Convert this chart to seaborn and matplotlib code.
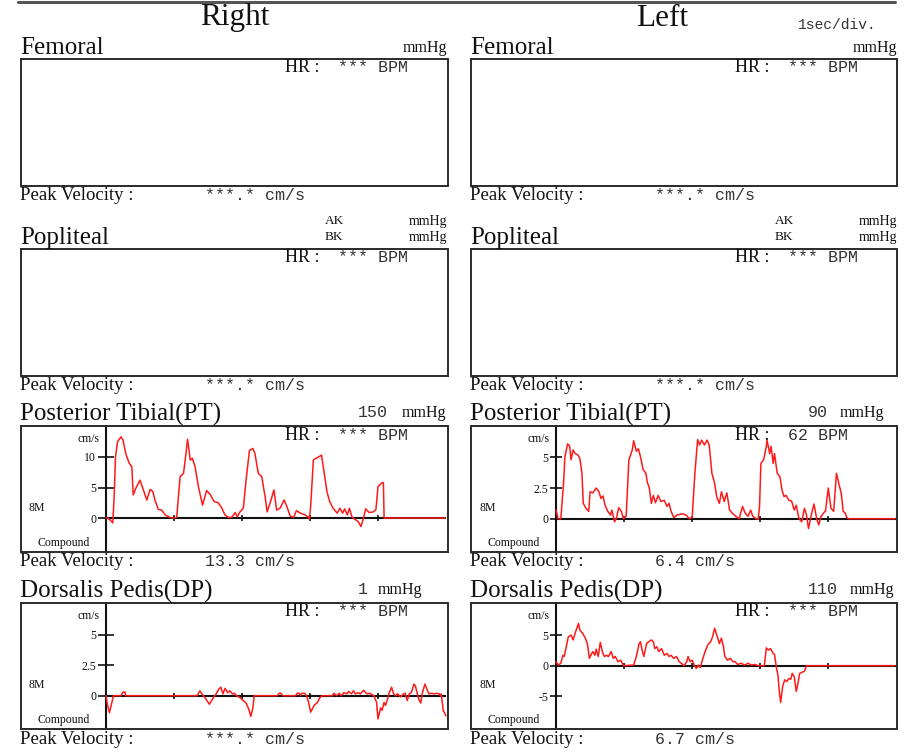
import matplotlib
matplotlib.use("Agg")
import matplotlib.pyplot as plt
import seaborn as sns
import pandas as pd
from matplotlib.patches import Rectangle
from matplotlib.lines import Line2D

# ---------------- data ----------------
sections = ["Femoral", "Popliteal", "Posterior Tibial(PT)", "Dorsalis Pedis(DP)"]
hr_right = ["***", "***", "***", "***"]
hr_left = ["***", "***", "62", "***"]
pv_right = ["***.*", "***.*", "13.3", "***.*"]
pv_left = ["***.*", "***.*", "6.4", "6.7"]
pt_pressure = ["150", "90"]
dp_pressure = ["1", "110"]

# Right Posterior Tibial (time s, velocity cm/s)
rpt_t = [0.00, 0.02, 0.06, 0.10, 0.12, 0.14, 0.17, 0.22, 0.25, 0.29, 0.34, 0.38, 0.40, 0.44, 0.50,
         0.55, 0.60, 0.65, 0.69, 0.72, 0.77, 0.82, 0.87, 0.94, 0.99, 1.04, 1.09, 1.14, 1.17, 1.20,
         1.24, 1.27, 1.31, 1.36, 1.42, 1.48, 1.53, 1.59, 1.65, 1.70, 1.75, 1.80, 1.85, 1.90, 1.93,
         1.97, 2.02, 2.06, 2.11, 2.16, 2.19, 2.24, 2.29, 2.34, 2.37, 2.42, 2.47, 2.51, 2.56, 2.62,
         2.66, 2.71, 2.76, 2.80, 2.86, 2.93, 2.98, 2.99, 3.01, 3.05, 3.09, 3.14, 3.17, 3.21, 3.25,
         3.29, 3.34, 3.40, 3.44, 3.48, 3.51, 3.55, 3.58, 3.62, 3.66, 3.71, 3.75, 3.78, 3.82, 3.87,
         3.93, 3.97, 4.00, 4.05, 4.08, 4.09, 4.99]
rpt_v = [0.0, 0.0, -0.3, -0.8, 3.5, 10.0, 12.5, 13.3, 12.8, 10.6, 9.0, 8.4, 3.8, 4.9, 6.2,
         4.6, 2.95, 4.7, 4.3, 2.95, 1.4, 1.3, 0.5, 0.1, 0.0, 0.1, 6.8, 7.3, 10.0, 12.9,
         9.5, 9.8, 8.4, 5.1, 2.1, 4.5, 3.9, 2.7, 2.5, 1.7, 0.5, 0.1, 0.1, 0.9, 0.2,
         1.0, 1.6, 6.2, 11.1, 11.4, 10.6, 7.3, 6.8, 3.5, 1.0, 2.7, 4.6, 1.3, 1.6, 2.95,
         1.9, 0.3, 0.1, 1.2, 0.8, 0.5, 0.1, -0.2, 1.9, 9.5, 9.8, 10.1, 10.3, 7.3, 4.3,
         2.7, 1.6, 0.8, 1.6, 0.8, 1.5, 0.5, 1.6, 0.1, -0.2, -0.6, -1.4, -0.3, 1.5, 0.9,
         1.0, 1.4, 5.1, 5.7, 5.8, 0.0, 0.0]

# Left Posterior Tibial
lpt_t = [0.00, 0.03, 0.07, 0.11, 0.13, 0.17, 0.20, 0.22, 0.25, 0.28, 0.32, 0.35, 0.38, 0.40, 0.44,
         0.48, 0.50, 0.54, 0.59, 0.63, 0.66, 0.69, 0.72, 0.76, 0.80, 0.82, 0.86, 0.89, 0.92, 0.96,
         0.99, 1.03, 1.07, 1.12, 1.14, 1.18, 1.21, 1.24, 1.28, 1.32, 1.34, 1.37, 1.40, 1.43, 1.46,
         1.50, 1.54, 1.59, 1.63, 1.66, 1.69, 1.73, 1.78, 1.86, 1.91, 1.96, 2.00, 2.04, 2.08, 2.11,
         2.14, 2.18, 2.22, 2.25, 2.29, 2.33, 2.36, 2.40, 2.43, 2.47, 2.51, 2.55, 2.60, 2.65, 2.69,
         2.74, 2.78, 2.82, 2.86, 2.89, 2.94, 2.97, 2.99, 3.01, 3.05, 3.09, 3.10, 3.14, 3.16, 3.19,
         3.21, 3.25, 3.29, 3.32, 3.35, 3.38, 3.42, 3.46, 3.50, 3.53, 3.57, 3.61, 3.65, 3.68, 3.71,
         3.75, 3.79, 3.83, 3.86, 3.89, 3.93, 3.96, 4.00, 4.04, 4.08, 4.12, 4.16, 4.19, 4.22, 4.25,
         4.27, 4.30, 4.98]
lpt_v = [0.7, 0.0, 0.0, 2.9, 5.05, 6.1, 5.9, 4.8, 5.6, 5.3, 5.2, 4.9, 3.7, 1.25, 0.85,
         0.6, 2.2, 2.1, 2.5, 2.2, 1.65, 1.85, 1.1, 0.6, 0.3, 0.7, -0.25, 0.1, 0.9, 0.6,
         0.0, 0.2, 4.8, 5.6, 6.35, 5.5, 5.7, 5.05, 4.0, 3.7, 3.0, 2.5, 1.25, 1.9, 1.3,
         1.9, 1.4, 1.5, 1.0, 1.25, 0.6, 0.1, 0.3, 0.4, 0.3, 0.0, 0.1, 3.7, 6.45, 6.0,
         6.4, 6.0, 6.4, 6.0, 3.7, 2.9, 1.8, 1.25, 2.2, 1.4, 2.1, 0.7, 0.4, 0.15, 0.0,
         1.0, 0.45, 0.2, 0.7, 0.2, 0.0, -0.05, 1.0, 4.5, 4.8, 5.9, 6.4, 5.3, 5.9, 4.5,
         5.3, 3.7, 3.4, 2.35, 1.8, 1.9, 1.5, 1.45, 0.7, 1.1, 0.0, -0.25, 0.85, 0.3, -0.8,
         0.3, 1.2, 0.0, -0.5, 0.15, 0.45, 0.65, 2.5, 0.85, 0.6, 3.7, 2.75, 2.1, 0.6, 0.45,
         0.1, 0.0, 0.0]

# Right Dorsalis Pedis
rdp_t = [0.00, 0.02, 0.05, 0.08, 0.11, 0.22, 0.25, 0.28, 0.29, 1.34, 1.38, 1.41, 1.46, 1.52, 1.58,
         1.62, 1.66, 1.69, 1.72, 1.75, 1.79, 1.82, 1.86, 1.89, 1.92, 1.97, 2.01, 2.06, 2.10, 2.13,
         2.16, 2.18, 2.52, 2.55, 2.57, 2.60, 2.79, 2.81, 2.84, 2.86, 2.88, 2.92, 2.95, 2.98, 3.01,
         3.06, 3.11, 3.14, 3.18, 3.33, 3.35, 3.39, 3.43, 3.46, 3.50, 3.54, 3.57, 3.61, 3.64, 3.67,
         3.71, 3.74, 3.79, 3.82, 3.84, 3.88, 3.94, 3.98, 4.00, 4.04, 4.06, 4.09, 4.11, 4.14, 4.16,
         4.20, 4.23, 4.26, 4.29, 4.33, 4.38, 4.40, 4.43, 4.46, 4.49, 4.53, 4.55, 4.58, 4.60, 4.63,
         4.65, 4.69, 4.73, 4.75, 4.79, 4.83, 4.86, 4.90, 4.92, 4.93, 4.96, 5.00]
rdp_v = [0.0, -0.7, -1.4, -0.7, 0.0, 0.0, 0.3, 0.3, 0.0, 0.0, 0.4, 0.15, -0.2, -0.7, -0.15,
         0.15, 0.55, 0.7, 0.15, 0.6, 0.25, 0.4, 0.15, 0.2, 0.0, -0.15, -0.35, -0.6, -1.1, -1.7,
         -1.0, 0.0, 0.0, 0.2, 0.2, 0.0, 0.0, 0.2, 0.2, 0.0, 0.2, 0.2, 0.0, -0.55, -1.35,
         -0.8, -0.55, -0.2, 0.0, 0.0, 0.2, 0.0, 0.2, 0.0, 0.25, 0.15, 0.35, 0.15, 0.4, 0.15,
         0.25, 0.15, 0.45, 0.25, 0.15, 0.2, 0.0, -0.55, -1.9, -1.0, -1.2, -0.55, -0.8, -0.3, 0.15,
         0.7, 0.15, 0.0, 0.15, -0.1, 0.15, 0.2, -0.4, 0.15, 0.25, 0.95, 0.8, 0.15, -0.3, -0.6,
         0.15, 0.95, 0.4, 0.15, 0.2, 0.15, 0.2, 0.15, 0.0, 0.15, -1.2, -1.65]

# Left Dorsalis Pedis
ldp_t = [0.00, 0.03, 0.07, 0.10, 0.12, 0.15, 0.18, 0.22, 0.25, 0.28, 0.33, 0.35, 0.39, 0.43, 0.46,
         0.49, 0.51, 0.54, 0.57, 0.59, 0.62, 0.65, 0.68, 0.71, 0.74, 0.77, 0.81, 0.84, 0.87, 0.91,
         0.95, 0.99, 1.14, 1.18, 1.22, 1.24, 1.27, 1.29, 1.33, 1.36, 1.40, 1.43, 1.45, 1.48, 1.51,
         1.55, 1.59, 1.63, 1.66, 1.69, 1.73, 1.77, 1.81, 1.84, 1.88, 1.92, 1.94, 1.97, 2.00, 2.03,
         2.06, 2.09, 2.12, 2.15, 2.19, 2.23, 2.27, 2.30, 2.33, 2.37, 2.40, 2.43, 2.46, 2.48, 2.52,
         2.56, 2.60, 2.63, 2.67, 2.72, 2.77, 2.82, 2.87, 2.92, 2.97, 3.06, 3.09, 3.12, 3.15, 3.19,
         3.21, 3.24, 3.26, 3.28, 3.30, 3.33, 3.36, 3.39, 3.42, 3.45, 3.47, 3.50, 3.53, 3.56, 3.58,
         3.61, 3.65, 3.68, 4.98]
ldp_v = [0.65, 0.1, 0.4, 1.7, 1.5, 3.1, 4.7, 5.0, 4.2, 5.3, 6.9, 5.8, 5.3, 4.5, 3.6,
         1.2, 1.7, 2.3, 1.7, 2.7, 1.5, 3.8, 2.3, 1.5, 1.7, 1.5, 2.3, 1.2, 1.5, 0.65,
         0.9, 0.0, 0.1, 1.5, 3.6, 3.9, 2.3, 1.5, 3.6, 3.9, 4.2, 3.9, 2.8, 3.1, 2.3,
         2.8, 1.7, 2.0, 1.5, 1.7, 1.2, 1.5, 0.65, 0.4, 0.0, 0.65, 1.5, 0.65, 0.9, 0.1,
         -0.45, 0.1, -0.3, 0.9, 2.3, 3.4, 3.9, 4.7, 6.1, 4.7, 3.6, 4.5, 3.1, 1.5, 0.9,
         1.2, 0.65, 0.65, 0.2, 0.4, 0.1, 0.4, 0.1, 0.2, 0.0, 0.0, 2.9, 2.55, 2.8, 2.0,
         1.85, -0.45, -1.5, -4.2, -6.0, -3.4, -2.3, -2.6, -2.1, -2.2, -1.25, -1.8, -4.2, -2.6, -1.25,
         -1.1, -0.9, 0.0, 0.0]

# ---------------- style / layout ----------------
sns.set_style("white")
plt.rcParams['font.family'] = ['Liberation Serif', 'DejaVu Serif']
SERIF = 'Liberation Serif'
MONO = 'Liberation Mono'
TXT = '#111111'
MONO_C = '#333333'

W, H = 916, 753
fig = plt.figure(figsize=(W / 100, H / 100), dpi=100)
fig.patch.set_facecolor('white')


def T(x, y, s, size, family=SERIF, ha='left', va='center', color=TXT, **kw):
    fig.text(x / W, 1 - y / H, s, fontsize=size, family=family, ha=ha, va=va, color=color, **kw)


col_x = [(21, 448), (471, 897)]
col_dx = [0, 450]
rows = [(59, 186), (249, 376), (426, 552), (603, 729)]

# top rule
fig.add_artist(Line2D([18 / W, 895 / W], [1 - 2 / H, 1 - 2 / H], color='#555555', lw=2.2))
T(235, 18, "Right", 22.5, ha='center')
T(662, 18, "Left", 22.5, ha='center')
T(798, 25, "1sec/div.", 10.5, family=MONO, color=MONO_C)

hr_vals = [hr_right, hr_left]
pv_vals = [pv_right, pv_left]

axes = {}
for c in range(2):
    x0, x1 = col_x[c]
    dx = col_dx[c]
    for r, (y0, y1) in enumerate(rows):
        ax = fig.add_axes([x0 / W, 1 - y1 / H, (x1 - x0) / W, (y1 - y0) / H])
        ax.set_facecolor('none')
        for s in ax.spines.values():
            s.set_visible(False)
        ax.set_xticks([])
        ax.set_yticks([])
        ax.add_patch(Rectangle((0, 0), 1, 1, transform=ax.transAxes, fill=False,
                               lw=1.4, ec='#2a2a2a', clip_on=False, zorder=5))
        axes[(c, r)] = ax
        # headings
        T(20 + dx, y0 - 5, sections[r], 18, va='baseline')
        T(285 + dx, y0 + 9, "HR :", 13)
        T(338 + dx, y0 + 9, f"{hr_vals[c][r]} BPM", 12, family=MONO, color=MONO_C)
        T(20 + dx, y1 + 10, "Peak Velocity :", 13.5)
        T(205 + dx, y1 + 10, f"{pv_vals[c][r]} cm/s", 12, family=MONO, color=MONO_C)

# pressure annotations
for c in range(2):
    dx = col_dx[c]
    T(447 + dx, 48, "mmHg", 11.5, ha='right')
    T(325 + dx, 221, "AK", 9.5)
    T(325 + dx, 237, "BK", 9.5)
    T(447 + dx, 221, "mmHg", 10, ha='right')
    T(447 + dx, 237, "mmHg", 10, ha='right')

T(358, 413, pt_pressure[0], 12, family=MONO, color=MONO_C)
T(402, 413, "mmHg", 11.5)
T(808, 413, pt_pressure[1], 12, family=MONO, color=MONO_C)
T(840, 413, "mmHg", 11.5)
T(358, 590, dp_pressure[0], 12, family=MONO, color=MONO_C)
T(378, 590, "mmHg", 11.5)
T(808, 590, dp_pressure[1], 12, family=MONO, color=MONO_C)
T(850, 590, "mmHg", 11.5)

# waveform panels
panels = [
    # col, row, t, v, ylim, yticks, yticklabels, xlim, axis px
    (0, 2, rpt_t, rpt_v, (-5.57, 15.08), [0, 5, 10], ["0", "5", "10"], (-1.25, 5.03), 106),
    (1, 2, lpt_t, lpt_v, (-2.71, 7.55), [0, 2.5, 5], ["0", "2.5", "5"], (-1.25, 5.01), 556),
    (0, 3, rdp_t, rdp_v, (-2.73, 7.60), [0, 2.5, 5], ["0", "2.5", "5"], (-1.25, 5.03), 106),
    (1, 3, ldp_t, ldp_v, (-10.33, 10.23), [-5, 0, 5], ["-5", "0", "5"], (-1.25, 5.01), 556),
]

for c, r, t, v, ylim, yt, ytl, xlim, axpx in panels:
    ax = axes[(c, r)]
    y0, y1 = rows[r]
    x0 = col_x[c][0]
    df = pd.DataFrame({"t": t, "v": v})
    sns.lineplot(data=df, x="t", y="v", ax=ax, color='#ff1a1a', lw=1.1,
                 estimator=None, sort=False, zorder=4)
    ax.set_xlim(*xlim)
    ax.set_ylim(*ylim)
    ax.set_xlabel("")
    ax.set_ylabel("")
    for side in ("left", "bottom"):
        ax.spines[side].set_visible(True)
        ax.spines[side].set_position(('data', 0))
        ax.spines[side].set_color('#111111')
        ax.spines[side].set_linewidth(1.5)
    ax.spines['bottom'].set_bounds(0, 4.98)
    ax.set_yticks(yt)
    ax.set_yticklabels(ytl)
    ax.set_xticks([1, 2, 3, 4])
    ax.set_xticklabels([])
    ylen = 12 if c == 0 else 9
    ax.tick_params(axis='y', left=True, direction='inout', length=ylen, width=1.2,
                   color='#111111', labelsize=8.5, pad=1, labelcolor=TXT,
                   labelfontfamily=SERIF)
    ax.tick_params(axis='x', bottom=True, direction='inout', length=5, width=1.2,
                   color='#111111')
    # small axis captions
    T(axpx - 7, y0 + 13, "cm/s", 8.5, ha='right')
    T(x0 + 8, y0 + 82, "8M", 8.5)
    T(x0 + 16, y0 + 117, "Compound", 8.5)

fig.savefig("out.png", dpi=100, facecolor='white')
